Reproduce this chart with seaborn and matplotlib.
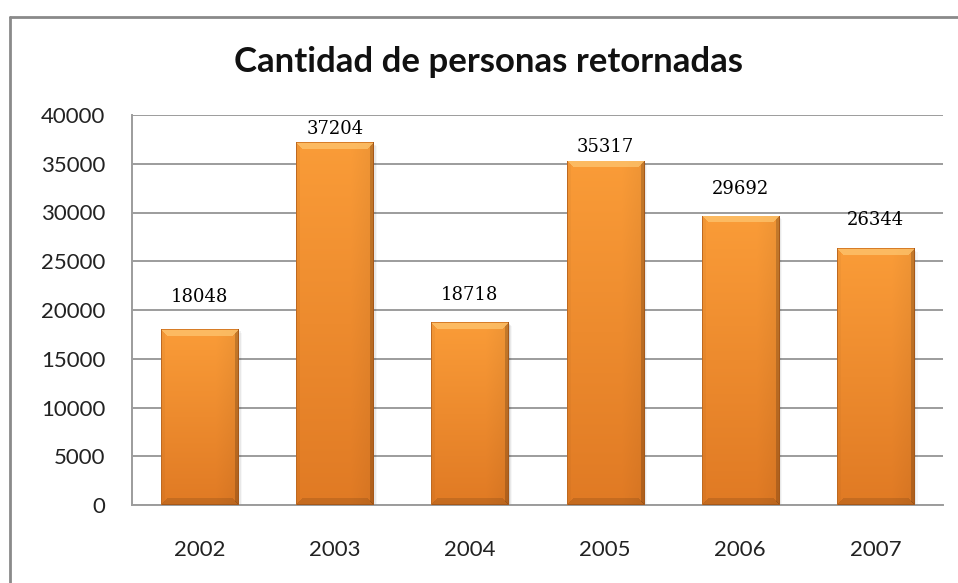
import numpy as np
import pandas as pd
import seaborn as sns
import matplotlib
matplotlib.use("Agg")
import matplotlib.pyplot as plt
from matplotlib.lines import Line2D

# ---- data ----
years = ["2002", "2003", "2004", "2005", "2006", "2007"]
personas = [18048, 37204, 18718, 35317, 29692, 26344]
label_gap_px = [32, 13, 27, 14, 27, 28]
title = "Cantidad de personas retornadas"
yticks = [0, 5000, 10000, 15000, 20000, 25000, 30000, 35000, 40000]

df = pd.DataFrame({"year": years, "personas": personas})

sns.set_theme(style="white")
plt.rcParams["font.family"] = ["Lato", "DejaVu Sans"]

W, H, DPI = 958, 583, 100
fig = plt.figure(figsize=(W / DPI, H / DPI), dpi=DPI)
ax_l, ax_r, ax_t, ax_b = 132, 943, 115, 505
ax = fig.add_axes([ax_l / W, 1 - ax_b / H, (ax_r - ax_l) / W, (ax_b - ax_t) / H])

sns.barplot(data=df, x="year", y="personas", color="#F7952F", width=0.57,
            saturation=1, ax=ax, zorder=3, linewidth=0)

ymax = 40000
ax.set_ylim(0, ymax)
ax.set_xlim(-0.5, len(years) - 0.5)

px_per_unit_y = (ax_b - ax_t) / ymax
px_per_unit_x = (ax_r - ax_l) / len(years)


def bar_image(hpx, wpx):
    hpx = max(int(round(hpx)), 10)
    wpx = max(int(round(wpx)), 10)
    r = np.arange(hpx)[:, None] / (hpx - 1)
    top = np.array([250, 156, 56], float)
    bot = np.array([224, 122, 36], float)
    img = top + (bot - top) * r[..., None]
    img = np.broadcast_to(img, (hpx, wpx, 3)).copy()
    rr, cc = np.mgrid[0:hpx, 0:wpx]
    bev = 7
    # horizontal shading: subtle darkening towards right side
    hx = cc / (wpx - 1)
    shade = 1 - 0.05 * np.clip((hx - 0.7) / 0.3, 0, 1)
    img = img * shade[..., None]
    # side bevels (subtle)
    left = (cc < 4) & (rr >= cc) & (rr < hpx - cc)
    right = (cc >= wpx - 4) & (rr >= wpx - 1 - cc) & (rr < hpx - (wpx - 1 - cc))
    img[left] = img[left] * 0.97
    img[right] = img[right] * 0.82
    # top bevel (lighter)
    topm = (rr < bev) & (cc >= rr) & (cc < wpx - rr)
    light = np.array([254, 200, 115], float)
    img[topm] = img[topm] * 0.3 + light * 0.7
    # bottom bevel (darker)
    botm = (rr >= hpx - bev) & (cc >= hpx - 1 - rr) & (cc < wpx - (hpx - 1 - rr))
    img[botm] = img[botm] * 0.88
    # outline
    edge = np.array([165, 88, 25], float)
    img[0, :] = np.array([215, 125, 40], float)
    img[-1, :] = edge
    img[:, 0] = np.array([190, 105, 32], float)
    img[:, -1] = edge
    return np.clip(img / 255.0, 0, 1)


for p in list(ax.patches):
    x, y = p.get_x(), p.get_y()
    w, h = p.get_width(), p.get_height()
    if h <= 0:
        continue
    # soft shadow to the right
    for k, a in enumerate([0.10, 0.06, 0.03]):
        ax.add_patch(plt.Rectangle((x + w, y), (k + 1) * 1.2 / px_per_unit_x,
                                   h - (k + 1) * 1.2 / px_per_unit_y,
                                   color="black", alpha=a, lw=0, zorder=2))
    img = bar_image(h * px_per_unit_y, w * px_per_unit_x)
    im = ax.imshow(img, extent=[x, x + w, y, y + h], aspect="auto",
                   zorder=4, interpolation="nearest")
    im.set_clip_path(p)

ax.set_ylim(0, ymax)
ax.set_xlim(-0.5, len(years) - 0.5)

for i, (v, g) in enumerate(zip(personas, label_gap_px)):
    ax.annotate(f"{v}", (i, v), xytext=(0, g * 72 / DPI), textcoords="offset points",
                ha="center", va="center", fontsize=13,
                family=["DejaVu Serif"], color="#000000", zorder=6)

ax.set_yticks(yticks)
ax.set_yticklabels([str(t) for t in yticks])
ax.yaxis.grid(True, color="#9C9C9C", linewidth=1.4, zorder=0)
ax.set_axisbelow(True)
ax.set_xlabel("")
ax.set_ylabel("")
ax.tick_params(axis="y", length=0, pad=19, labelsize=16, labelcolor="#222222")
ax.tick_params(axis="x", length=0, pad=25, labelsize=16, labelcolor="#222222")
for s in ["top", "right"]:
    ax.spines[s].set_visible(False)
ax.spines["left"].set_color("#9C9C9C")
ax.spines["left"].set_linewidth(1.4)
ax.spines["bottom"].set_color("#9C9C9C")
ax.spines["bottom"].set_linewidth(1.4)

fig.text(489 / W, 1 - 62 / H, title, ha="center", va="center",
         fontsize=25, fontweight="bold", color="#111111")

# outer chart frame (top and left edges visible)
fx, fy = 9.5 / W, 1 - 16.5 / H
fig.add_artist(Line2D([fx, 1], [fy, fy], transform=fig.transFigure,
                      color="#8A8A8A", lw=2))
fig.add_artist(Line2D([fx, fx], [0, fy], transform=fig.transFigure,
                      color="#8A8A8A", lw=2))

fig.savefig("out.png", dpi=DPI, facecolor="white")
